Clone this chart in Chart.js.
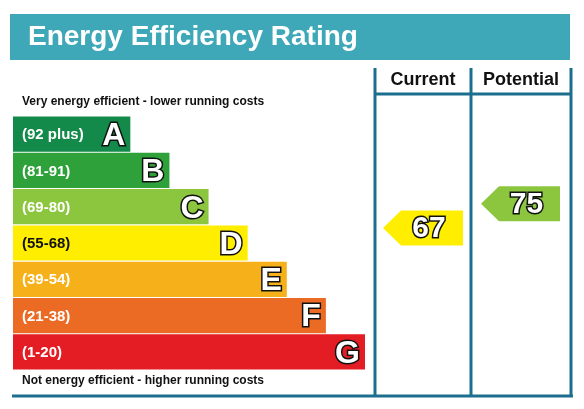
<!DOCTYPE html>
<html>
<head>
<meta charset="utf-8">
<script src="https://cdn.jsdelivr.net/npm/chart.js@4/dist/chart.umd.min.js"></script>
<style>
  html, body { margin: 0; padding: 0; background: #fff; }
  #wrap { width: 584px; height: 409px; }
</style>
</head>
<body>
<div id="wrap"><canvas id="epc"></canvas></div>
<script>
// rating bands, top (best) to bottom
var bands = ["A", "B", "C", "D", "E", "F", "G"];
var bandRanges = ["(92 plus)", "(81-91)", "(69-80)", "(55-68)", "(39-54)", "(21-38)", "(1-20)"];
var bandLo = [92, 81, 69, 55, 39, 21, 1];
var bandHi = [100, 91, 80, 68, 54, 38, 20];
var bandLength = [3, 4, 5, 6, 7, 8, 9];
var bandColors = ["#138a4a", "#2ea13a", "#8cc63f", "#ffee00", "#f6b019", "#ec6b24", "#e31d23"];
var currentRating = 67;
var potentialRating = 75;

var teal = "#1c6e8f";
var font = "'Liberation Sans', Arial, sans-serif";

function bandOf(r) {
    for (var i = 0; i < bandLo.length; i++) { if (r >= bandLo[i]) return i; }
    return bandLo.length - 1;
}

function outlined(ctx, txt, x, y, size, align) {
    ctx.font = "bold " + size + "px " + font;
    ctx.textAlign = align;
    ctx.textBaseline = "middle";
    ctx.lineWidth = 3;
    ctx.strokeStyle = "#111";
    ctx.strokeText(txt, x, y);
    ctx.fillStyle = "#fff";
    ctx.fillText(txt, x, y);
}

function drawArrow(chart, rating, left, right) {
    var ctx = chart.ctx;
    var ys = chart.scales.y;
    var i = bandOf(rating);
    var top = ys.getPixelForValue(i) - 17.5;
    var cy = top + (bandHi[i] - rating) / (bandHi[i] - bandLo[i] + 1) * 35;
    var h = 35;
    var t = cy - h / 2;
    ctx.fillStyle = bandColors[i];
    ctx.beginPath();
    ctx.moveTo(left, cy);
    ctx.lineTo(left + 18, t);
    ctx.lineTo(right, t);
    ctx.lineTo(right, t + h);
    ctx.lineTo(left + 18, t + h);
    ctx.closePath();
    ctx.fill();
    outlined(ctx, String(rating), (left + right) / 2 + 6, cy + 1, 30, "center");
}

var epcPlugin = {
    id: "epc",
    beforeDraw: function(chart) {
        var ctx = chart.ctx;
        ctx.save();
        ctx.fillStyle = "#3ea8b8";
        ctx.fillRect(10, 14, 560, 46);
        ctx.fillStyle = "#fff";
        ctx.font = "bold 28px " + font;
        ctx.textAlign = "left";
        ctx.textBaseline = "middle";
        ctx.fillText("Energy Efficiency Rating", 28, 37);

        ctx.strokeStyle = teal;
        ctx.lineWidth = 3;
        ctx.beginPath();
        [375, 471, 571].forEach(function(x) { ctx.moveTo(x, 68); ctx.lineTo(x, 397); });
        ctx.moveTo(375, 94); ctx.lineTo(571, 94);
        ctx.moveTo(12, 396); ctx.lineTo(573, 396);
        ctx.stroke();

        ctx.fillStyle = "#111";
        ctx.font = "bold 18px " + font;
        ctx.textAlign = "center";
        ctx.fillText("Current", 423, 80);
        ctx.fillText("Potential", 521, 80);
        ctx.font = "bold 12px " + font;
        ctx.textAlign = "left";
        ctx.fillText("Very energy efficient - lower running costs", 22, 102);
        ctx.fillText("Not energy efficient - higher running costs", 22, 381);
        ctx.restore();
    },
    afterDatasetsDraw: function(chart) {
        var ctx = chart.ctx;
        var meta = chart.getDatasetMeta(0);
        ctx.save();
        meta.data.forEach(function(bar, i) {
            ctx.fillStyle = i === 3 ? "#111" : "#fff";
            ctx.font = "bold 15px " + font;
            ctx.textAlign = "left";
            ctx.textBaseline = "middle";
            ctx.fillText(bandRanges[i], 22, bar.y + 1);
            outlined(ctx, bands[i], bar.x - 5, bar.y + 2, 32, "right");
        });
        drawArrow(chart, currentRating, 383, 463);
        drawArrow(chart, potentialRating, 481, 560);
        ctx.restore();
    }
};

new Chart(document.getElementById("epc").getContext("2d"), {
    type: "bar",
    data: {
        labels: bands,
        datasets: [{ data: bandLength, backgroundColor: bandColors, borderWidth: 0,
                     categoryPercentage: 1, barPercentage: 0.97 }]
    },
    options: {
        indexAxis: "y",
        responsive: true,
        maintainAspectRatio: false,
        animation: false,
        layout: { padding: { left: 13, right: 219, top: 116, bottom: 39 } },
        scales: {
            x: { display: false, min: 0, max: 9 },
            y: { display: false }
        },
        plugins: { legend: { display: false }, tooltip: { enabled: false } }
    },
    plugins: [epcPlugin]
});
</script>
</body>
</html>
